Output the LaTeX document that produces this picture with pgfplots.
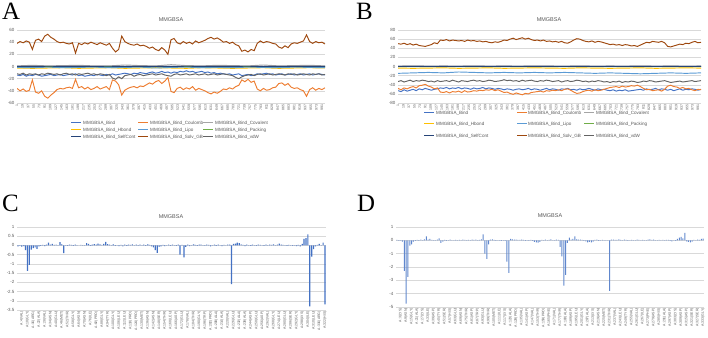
\documentclass[border=0pt]{standalone}
\usepackage{pgfplots}
\pgfplotsset{compat=1.18}
\usepackage{pgfplotstable}
\usepackage{fontspec}
\setmainfont{Liberation Sans}
\newfontfamily\serif{Liberation Serif}
\definecolor{cBind}{HTML}{4472C4}
\definecolor{cCoul}{HTML}{ED7D31}
\definecolor{cCov}{HTML}{A5A5A5}
\definecolor{cHb}{HTML}{FFC000}
\definecolor{cLipo}{HTML}{5B9BD5}
\definecolor{cPack}{HTML}{70AD47}
\definecolor{cSelf}{HTML}{264478}
\definecolor{cSolv}{HTML}{9E480E}
\definecolor{cVdw}{HTML}{636363}
\definecolor{labc}{HTML}{595959}
\definecolor{gridc}{HTML}{D9D9D9}
\newcommand{\legfont}{\fontsize{4.6}{5}\selectfont}
\newcommand{\legitem}[5]{\draw[#1, line width=1bp] (#2bp,#4bp) -- ++(10bp,0);
  \node[anchor=west, inner sep=0, font=\legfont, text=labc] at (#3bp,#4bp) {#5};}

\pgfplotstableread{
f bind coul solv vdw
1 -14 -36 38 -12
11 -15 -40 41 -13
21 -13 -37 39 -11
31 -16 -41 42 -14
41 -14 -39 40 -12
51 -15 -22 28 -13
61 -13 -42 43 -12
71 -14 -44 45 -14
81 -16 -40 41 -12
91 -15 -49 50 -13
101 -14 -52 53 -11
111 -13 -47 48 -12
121 -15 -43 45 -13
131 -14 -38 41 -12
141 -13 -36 39 -14
151 -15 -37 40 -12
161 -14 -35 38 -11
171 -13 -34 37 -13
181 -14 -36 39 -12
191 -12 -21 22 -14
201 -15 -35 38 -12
211 -14 -33 36 -13
221 -16 -37 39 -12
231 -15 -34 37 -11
241 -14 -38 40 -13
251 -15 -36 38 -12
261 -13 -33 36 -14
271 -14 -37 39 -12
281 -15 -35 37 -13
291 -13 -33 35 -15
301 -14 -38 38 -13
311 -12 -22 30 -19
321 -14 -24 24 -21
331 -13 -30 28 -17
341 -12 -47 50 -20
351 -11 -39 41 -15
361 -12 -36 38 -14
371 -13 -34 36 -13
381 -11 -33 35 -16
391 -12 -35 37 -14
401 -10 -32 34 -13
411 -11 -33 35 -15
421 -12 -30 33 -14
431 -10 -27 30 -13
441 -9 -29 32 -12
451 -11 -25 28 -14
461 -10 -23 26 -13
471 -8 -28 31 -12
481 -10 -24 27 -14
491 -9 -18 20 -15
501 -11 -41 44 -16
511 -9 -43 46 -13
521 -10 -36 39 -12
531 -8 -34 37 -14
541 -9 -38 41 -13
551 -7 -35 38 -12
561 -9 -37 40 -14
571 -8 -33 37 -13
581 -10 -39 42 -12
591 -9 -36 39 -14
601 -8 -38 41 -13
611 -10 -40 43 -12
621 -9 -43 46 -14
631 -11 -45 48 -13
641 -10 -42 45 -12
651 -12 -44 47 -14
661 -11 -41 44 -13
671 -12 -37 40 -12
681 -13 -38 41 -13
691 -12 -35 38 -14
701 -14 -37 40 -15
711 -13 -33 36 -18
721 -12 -31 34 -20
731 -15 -22 25 -17
741 -14 -25 27 -15
751 -13 -21 24 -14
761 -15 -26 28 -13
771 -14 -24 26 -15
781 -12 -37 38 -13
791 -13 -40 42 -12
801 -12 -36 39 -14
811 -11 -39 41 -13
821 -13 -38 40 -12
831 -12 -35 38 -14
841 -14 -34 37 -13
851 -13 -28 32 -12
861 -12 -27 30 -13
871 -14 -31 34 -14
881 -13 -28 31 -12
891 -12 -34 37 -13
901 -14 -36 39 -12
911 -13 -35 38 -14
921 -12 -38 40 -13
931 -14 -40 42 -12
941 -13 -49 52 -13
951 -12 -38 41 -14
961 -14 -35 38 -12
971 -13 -39 41 -13
981 -12 -36 39 -12
991 -13 -38 40 -14
1001 -14 -35 37 -13
}\dataA

\pgfplotstableread{
f cov hb lipo pack self
1 1 -2.5 -1.5 -0.2 0.3
51 2 -3 -2 -0.3 0.2
101 1 -2.5 -1 -0.2 0.4
151 1.5 -2 -2 -0.1 0.3
201 2 -3 -1.5 -0.2 0.2
251 1 -2.5 -1 -0.3 0.3
301 1 -2 -2 -0.2 0.4
351 2.5 -3 -1.5 -0.2 0.2
401 1.5 -2.5 -1 -0.1 0.3
451 1 -2 -2.5 -0.3 0.3
501 3 -2.5 -1.5 -0.2 0.2
551 1.5 -3 -1 -0.2 0.4
601 1 -2 -2 -0.3 0.3
651 2 -2.5 -1.5 -0.1 0.2
701 1.5 -3 -2 -0.2 0.3
751 1 -2.5 -1 -0.2 0.4
801 2.5 -2 -1.5 -0.3 0.2
851 1 -3 -2 -0.2 0.3
901 1.5 -2.5 -1 -0.1 0.3
951 2 -2 -1.5 -0.2 0.2
1001 1 -2.5 -2 -0.2 0.3
}\flatA

\pgfplotstableread{
f bind coul solv vdw
1 -53 -48 50 -33
11 -55 -51 49 -31
21 -51 -47 51 -34
31 -54 -49 48 -32
41 -52 -46 50 -30
51 -50 -44 47 -33
61 -53 -47 49 -31
71 -49 -42 46 -32
81 -51 -41 45 -30
91 -48 -39 44 -31
101 -50 -43 46 -33
111 -52 -45 48 -32
121 -50 -49 52 -34
131 -49 -47 50 -31
141 -47 -56 58 -33
151 -48 -57 57 -32
161 -46 -55 59 -31
171 -49 -58 56 -33
181 -47 -55 58 -30
191 -48 -56 57 -32
201 -46 -54 56 -34
211 -49 -57 57 -31
221 -47 -53 55 -32
231 -48 -56 58 -33
241 -50 -55 56 -31
251 -47 -53 57 -30
261 -49 -54 55 -32
271 -48 -52 56 -31
281 -46 -53 54 -33
291 -49 -51 55 -32
301 -47 -52 53 -30
311 -48 -50 52 -31
321 -50 -53 54 -33
331 -48 -51 53 -32
341 -49 -54 55 -31
351 -51 -57 58 -29
361 -49 -56 57 -31
371 -50 -59 60 -30
381 -52 -61 62 -32
391 -50 -58 59 -31
401 -49 -60 61 -33
411 -51 -62 63 -30
421 -50 -59 60 -32
431 -48 -60 62 -31
441 -51 -57 59 -30
451 -49 -56 57 -32
461 -50 -55 58 -33
471 -52 -54 56 -31
481 -50 -56 58 -32
491 -48 -53 55 -30
501 -51 -54 56 -31
511 -49 -52 54 -33
521 -50 -53 55 -32
531 -52 -51 53 -31
541 -49 -53 55 -34
551 -50 -50 52 -32
561 -48 -49 51 -31
571 -51 -52 54 -33
581 -50 -56 58 -32
591 -52 -59 61 -30
601 -49 -58 60 -31
611 -51 -55 57 -33
621 -50 -53 55 -32
631 -48 -52 54 -34
641 -50 -54 56 -32
651 -52 -51 53 -33
661 -49 -53 55 -31
671 -51 -52 54 -32
681 -50 -50 52 -34
691 -52 -48 50 -33
701 -53 -46 48 -35
711 -51 -45 49 -33
721 -54 -44 47 -34
731 -52 -46 48 -32
741 -53 -43 46 -35
751 -51 -45 48 -33
761 -54 -44 47 -34
771 -53 -42 45 -32
781 -52 -43 46 -33
791 -51 -41 44 -35
801 -50 -44 47 -34
811 -52 -48 50 -32
821 -49 -51 53 -33
831 -51 -50 52 -31
841 -50 -53 55 -32
851 -48 -52 54 -34
861 -51 -51 53 -33
871 -49 -54 55 -32
881 -50 -50 52 -31
891 -52 -43 44 -33
901 -50 -41 43 -35
911 -53 -44 45 -34
921 -51 -45 47 -33
931 -49 -48 49 -32
941 -52 -46 48 -34
951 -50 -49 51 -33
961 -51 -48 50 -32
971 -49 -51 53 -31
981 -50 -53 55 -33
991 -52 -50 52 -32
1001 -50 -51 53 -31
}\dataB

\pgfplotstableread{
f cov hb lipo pack self
1 1 -3.5 -15 -0.3 0.2
51 1.5 -4 -14 -0.2 0.3
101 1 -3.5 -13 -0.3 0.2
151 1.2 -3 -14 -0.2 0.2
201 1 -4 -12 -0.3 0.3
251 1.5 -3.5 -13 -0.2 0.2
301 1 -3 -14 -0.3 0.2
351 1.3 -4 -13 -0.2 0.3
401 1 -3.5 -14 -0.3 0.2
451 1.5 -3 -13 -0.2 0.2
501 1.2 -3.5 -14 -0.3 0.3
551 1 -4 -13 -0.2 0.2
601 1.4 -3 -14 -0.3 0.2
651 1 -3.5 -15 -0.2 0.3
701 1.2 -4 -14 -0.3 0.2
751 1 -3.5 -15 -0.2 0.2
801 1.5 -3 -16 -0.3 0.3
851 1 -4 -15 -0.2 0.2
901 1.3 -3.5 -14 -0.3 0.2
951 1 -3 -15 -0.2 0.3
1001 1.2 -3.5 -14 -0.3 0.2
}\flatB

\pgfplotsset{
  base/.style={scale only axis, anchor=south west,
    axis line style={draw=none}, tick style={draw=none}, major tick length=0pt,
    ymajorgrids, grid style={draw=gridc, line width=0.4bp},
    tick label style={text=labc},
    yticklabel style={font=\fontsize{4.5}{5}\selectfont, xshift=1bp},
    xticklabel style={font=\fontsize{3.5}{4}\selectfont, rotate=90, anchor=east, inner sep=1bp},
    /pgf/number format/assume math mode=true,
  },
  ts/.style={no markers, line width=0.95bp},
}

\begin{document}
\begin{tikzpicture}
\path[use as bounding box] (0,0) rectangle (708bp,338bp);

% ---------- A ----------
\begin{axis}[base, at={(17bp,235bp)}, width=308bp, height=73bp,
  xmin=1, xmax=1001, ymin=-60, ymax=60, ytick={-60,-40,...,60},
  xtick={1,19,...,1000}]
\addplot[ts, cBind] table[x=f, y=bind]{\dataA};
\addplot[ts, cCoul] table[x=f, y=coul]{\dataA};
\addplot[ts, cCov] table[x=f, y=cov]{\flatA};
\addplot[ts, cHb] table[x=f, y=hb]{\flatA};
\addplot[ts, cLipo] table[x=f, y=lipo]{\flatA};
\addplot[ts, cPack] table[x=f, y=pack]{\flatA};
\addplot[ts, cSelf] table[x=f, y=self]{\flatA};
\addplot[ts, cSolv] table[x=f, y=solv]{\dataA};
\addplot[ts, cVdw] table[x=f, y=vdw]{\dataA};
\end{axis}

% ---------- B ----------
\begin{axis}[base, at={(398bp,235bp)}, width=303bp, height=73bp,
  xmin=1, xmax=1001, ymin=-80, ymax=80, ytick={-80,-60,...,80},
  xtick={1,19,...,1000}]
\addplot[ts, cBind] table[x=f, y=bind]{\dataB};
\addplot[ts, cCoul] table[x=f, y=coul]{\dataB};
\addplot[ts, cCov] table[x=f, y=cov]{\flatB};
\addplot[ts, cHb] table[x=f, y=hb]{\flatB};
\addplot[ts, cLipo] table[x=f, y=lipo]{\flatB};
\addplot[ts, cPack] table[x=f, y=pack]{\flatB};
\addplot[ts, cSelf] table[x=f, y=self]{\flatB};
\addplot[ts, cSolv] table[x=f, y=solv]{\dataB};
\addplot[ts, cVdw] table[x=f, y=vdw]{\dataB};
\end{axis}

% ---------- C ----------
\begin{axis}[base, at={(17bp,28bp)}, width=309bp, height=83bp,
  xmin=-0.5, xmax=161.5, ymin=-3.5, ymax=1,
  ytick={-3.5,-3,-2.5,-2,-1.5,-1,-0.5,0,0.5,1},
  xtick={2,5,...,161},
  xticklabels={A:4(VAL),A:10(GLY),A:16(ARG),A:22(ALA),A:28(VAL),A:34(ASN),A:40(GLU),A:46(MET),A:52(THR),A:58(GLY),A:64(ASN),A:70(ASN),A:76(ILE),A:82(PRO),A:88(GLY),A:94(TYR),A:100(GLY),A:106(LEU),A:112(LEU),A:118(PRO),A:124(PRO),A:130(MET),A:136(ASN),A:142(ASN),A:148(SER),A:154(THR),A:160(LEU),A:166(ASP),A:172(GLU),A:178(VAL),A:184(THR),A:190(GLY),A:196(TRP),A:202(PRO),A:208(ALA),A:214(ALA),A:220(VAL),A:226(GLU),A:232(ALA),A:238(ALA),A:244(ASP),A:250(GLU),A:256(ASP),A:262(VAL),A:268(GLY),A:274(LEU),A:280(GLU),A:286(SER),A:292(GLY),A:298(LYS),A:304(ILE),A:310(LEU),A:316(ARG),A:322(HIS)}]
\addplot[ybar, bar width=1.2bp, fill=cBind, draw=none] coordinates {
(0,-0.05)(1,-0.03)(2,-0.06)(3,-0.04)(4,-0.25)(5,-1.38)(6,-1.05)(7,-0.22)(8,-0.15)(9,-0.1)(10,-0.18)(11,-0.05)(12,-0.03)(13,0.03)(14,-0.04)(15,0.05)(16,0.15)(17,0.05)(18,0.08)(19,0.03)(20,0.04)(21,0.02)(22,0.18)(23,0.06)(24,-0.42)(25,0.02)(26,-0.03)(27,0.05)(28,0.03)(29,-0.02)(30,0.04)(31,0.02)(32,0.01)(33,0.03)(34,0.02)(35,-0.01)(36,0.12)(37,0.08)(38,-0.03)(39,0.05)(40,0.07)(41,0.04)(42,0.1)(43,0.06)(44,0.03)(45,0.08)(46,0.2)(47,0.07)(48,0.05)(49,0.02)(50,0.06)(51,-0.03)(52,0.02)(53,-0.04)(54,0.03)(55,-0.05)(56,0.04)(57,-0.02)(58,0.05)(59,0.03)(60,0.06)(61,0.02)(62,0.04)(63,-0.03)(64,0.05)(65,0.02)(66,0.04)(67,-0.02)(68,0.06)(69,0.03)(70,-0.05)(71,-0.1)(72,-0.25)(73,-0.4)(74,-0.08)(75,-0.05)(76,0.03)(77,-0.04)(78,0.02)(79,0.04)(80,-0.02)(81,0.05)(82,0.02)(83,-0.03)(84,0.04)(85,-0.5)(86,0.03)(87,-0.65)(88,-0.08)(89,0.05)(90,-0.04)(91,0.02)(92,0.06)(93,0.03)(94,-0.02)(95,0.04)(96,0.05)(97,0.02)(98,-0.03)(99,0.04)(100,0.03)(101,-0.05)(102,0.02)(103,0.04)(104,-0.03)(105,0.05)(106,0.02)(107,-0.04)(108,0.03)(109,0.02)(110,0.05)(111,0.04)(112,-2.1)(113,0.08)(114,0.1)(115,0.15)(116,0.12)(117,0.06)(118,0.03)(119,-0.04)(120,0.05)(121,0.02)(122,-0.03)(123,0.04)(124,0.02)(125,-0.02)(126,0.05)(127,0.03)(128,0.02)(129,-0.03)(130,0.04)(131,0.02)(132,0.05)(133,0.03)(134,0.06)(135,0.02)(136,0.04)(137,0.1)(138,0.05)(139,0.03)(140,0.02)(141,-0.02)(142,0.03)(143,0.02)(144,-0.03)(145,0.02)(146,-0.04)(147,0.03)(148,-0.05)(149,0.08)(150,0.35)(151,0.4)(152,0.6)(153,-3.3)(154,-0.6)(155,-0.2)(156,-0.05)(157,0.03)(158,0.08)(159,0.02)(160,0.15)(161,-3.2)};
\end{axis}

% ---------- D ----------
\begin{axis}[base, at={(396bp,31bp)}, width=308bp, height=80bp,
  xmin=-0.5, xmax=167.5, ymin=-5, ymax=1,
  ytick={-5,-4,...,1},
  xtick={2,5,...,167},
  xticklabels={A:3(LYS),A:9(ASN),A:15(GLY),A:21(ALA),A:27(LYS),A:33(ILE),A:39(ASP),A:45(TYR),A:51(SER),A:57(HIS),A:63(GLU),A:69(ASN),A:75(THR),A:81(ASP),A:87(TRP),A:93(GLU),A:99(THR),A:105(MET),A:111(ILE),A:117(LYS),A:123(ALA),A:129(PRO),A:135(VAL),A:141(ASP),A:147(VAL),A:153(THR),A:159(PRO),A:165(PHE),A:171(VAL),A:177(THR),A:183(ALA),A:189(ASP),A:195(LEU),A:201(GLY),A:207(ALA),A:213(LYS),A:219(ASN),A:225(MET),A:231(THR),A:237(VAL),A:243(LEU),A:249(TYR),A:255(VAL),A:261(GLU),A:267(ILE),A:273(PHE),A:279(ASP),A:285(HIS),A:291(ALA),A:297(ASP),A:303(LYS),A:309(ASP),A:315(ASP),A:321(SER),A:327(SER),A:333(GLY)}]
\addplot[ybar, bar width=1bp, fill=cBind!85, draw=none] coordinates {
(0,0.03)(1,-0.05)(2,0.02)(3,-0.1)(4,-2.3)(5,-4.75)(6,-2.75)(7,-0.4)(8,-0.3)(9,-0.1)(10,-0.05)(11,0.03)(12,-0.04)(13,0.05)(14,0.02)(15,0.08)(16,0.3)(17,0.05)(18,0.1)(19,0.04)(20,0.02)(21,-0.03)(22,0.06)(23,0.15)(24,-0.2)(25,-0.1)(26,0.03)(27,-0.04)(28,0.02)(29,0.05)(30,-0.03)(31,0.02)(32,0.04)(33,-0.02)(34,0.03)(35,0.02)(36,0.06)(37,0.03)(38,-0.02)(39,0.04)(40,0.02)(41,0.05)(42,0.03)(43,0.06)(44,0.02)(45,0.04)(46,0.08)(47,0.45)(48,-1.0)(49,-1.4)(50,-0.3)(51,0.05)(52,0.08)(53,0.03)(54,-0.05)(55,0.02)(56,-0.03)(57,-0.04)(58,0.02)(59,-0.05)(60,-1.6)(61,-2.45)(62,0.1)(63,0.08)(64,0.05)(65,0.06)(66,0.03)(67,0.04)(68,0.05)(69,0.03)(70,-0.05)(71,0.02)(72,-0.04)(73,0.03)(74,-0.05)(75,-0.12)(76,-0.15)(77,-0.18)(78,-0.12)(79,0.03)(80,0.02)(81,0.05)(82,-0.03)(83,0.04)(84,0.08)(85,0.02)(86,-0.03)(87,0.05)(88,0.04)(89,-0.5)(90,-1.2)(91,-3.4)(92,-2.6)(93,-0.2)(94,0.2)(95,0.05)(96,0.1)(97,0.3)(98,0.08)(99,0.05)(100,0.06)(101,0.03)(102,-0.04)(103,-0.08)(104,-0.15)(105,-0.12)(106,-0.15)(107,-0.1)(108,0.03)(109,0.05)(110,-0.04)(111,0.02)(112,0.04)(113,-0.03)(114,0.02)(115,-0.02)(116,-3.8)(117,0.05)(118,0.06)(119,0.03)(120,0.04)(121,0.08)(122,0.03)(123,-0.02)(124,0.05)(125,0.03)(126,-0.04)(127,0.02)(128,0.04)(129,-0.03)(130,0.02)(131,0.05)(132,0.03)(133,-0.02)(134,0.04)(135,0.02)(136,-0.03)(137,0.05)(138,0.08)(139,0.03)(140,0.06)(141,0.02)(142,-0.03)(143,0.04)(144,0.02)(145,0.03)(146,-0.02)(147,0.04)(148,0.03)(149,-0.05)(150,-0.08)(151,0.02)(152,-0.04)(153,0.1)(154,0.2)(155,0.25)(156,0.15)(157,0.55)(158,-0.08)(159,-0.12)(160,-0.15)(161,-0.1)(162,0.03)(163,-0.02)(164,0.05)(165,0.04)(166,0.1)(167,0.12)};
\end{axis}

% ---------- titles and panel letters ----------
\node[font=\fontsize{5.5}{6}\selectfont, text=labc] at (171bp,318bp) {MMGBSA};
\node[font=\fontsize{5.5}{6}\selectfont, text=labc] at (549bp,318bp) {MMGBSA};
\node[font=\fontsize{5.5}{6}\selectfont, text=labc] at (171bp,121bp) {MMGBSA};
\node[font=\fontsize{5.5}{6}\selectfont, text=labc] at (550bp,122bp) {MMGBSA};
\node[font=\serif\fontsize{25}{25}\selectfont, anchor=base west, inner sep=0] at (2bp,318bp) {A};
\node[font=\serif\fontsize{25}{25}\selectfont, anchor=base west, inner sep=0] at (356bp,318bp) {B};
\node[font=\serif\fontsize{25}{25}\selectfont, anchor=base west, inner sep=0] at (2bp,126bp) {C};
\node[font=\serif\fontsize{25}{25}\selectfont, anchor=base west, inner sep=0] at (357bp,126bp) {D};

% ---------- legend A ----------
\legitem{cBind}{71}{83}{215}{MMGBSA\_Bind}
\legitem{cCoul}{138}{150}{215}{MMGBSA\_Bind\_Coulomb}
\legitem{cCov}{203}{215}{215}{MMGBSA\_Bind\_Covalent}
\legitem{cHb}{71}{83}{208}{MMGBSA\_Bind\_Hbond}
\legitem{cLipo}{138}{150}{208}{MMGBSA\_Bind\_Lipo}
\legitem{cPack}{203}{215}{208}{MMGBSA\_Bind\_Packing}
\legitem{cSelf}{71}{83}{201}{MMGBSA\_Bind\_SelfCont}
\legitem{cSolv}{138}{150}{201}{MMGBSA\_Bind\_Solv\_GB}
\legitem{cVdw}{203}{215}{201}{MMGBSA\_Bind\_vdW}

% ---------- legend B ----------
\legitem{cBind}{424}{436}{225}{MMGBSA\_Bind}
\legitem{cCoul}{517}{528}{225}{MMGBSA\_Bind\_Coulomb}
\legitem{cCov}{584}{596}{225}{MMGBSA\_Bind\_Covalent}
\legitem{cHb}{424}{436}{214}{MMGBSA\_Bind\_Hbond}
\legitem{cLipo}{517}{528}{214}{MMGBSA\_Bind\_Lipo}
\legitem{cPack}{584}{596}{214}{MMGBSA\_Bind\_Packing}
\legitem{cSelf}{424}{436}{202}{MMGBSA\_Bind\_SelfCont}
\legitem{cSolv}{517}{528}{202}{MMGBSA\_Bind\_Solv\_GB}
\legitem{cVdw}{584}{596}{202}{MMGBSA\_Bind\_vdW}
\end{tikzpicture}
\end{document}
